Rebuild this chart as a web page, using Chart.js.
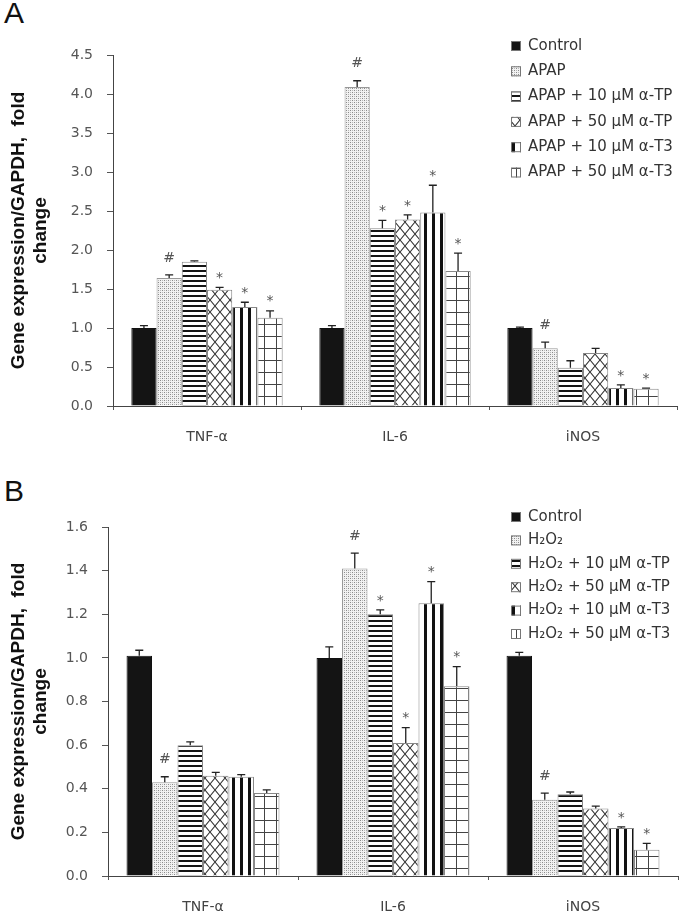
<!DOCTYPE html>
<html>
<head>
<meta charset="utf-8">
<script src="https://cdn.jsdelivr.net/npm/chart.js@4.4.1/dist/chart.umd.min.js"></script>
<style>
  body { margin: 0; background: #fff; }
  #page { position: relative; width: 683px; height: 915px; overflow: hidden; }
  .panel { position: absolute; left: 0; }
  .letter { position: absolute; left: 4px; font-family: "Liberation Sans", Arial, sans-serif; font-size: 30px; line-height: 1; color: #111; }
</style>
</head>
<body>
<div id="page">
  <div class="letter" style="top:-2px">A</div>
  <div class="letter" style="top:476px">B</div>
  <canvas id="chartA" class="panel" style="top:0" width="683" height="460"></canvas>
  <canvas id="chartB" class="panel" style="top:460px" width="683" height="455"></canvas>
</div>
<script>
// data
const genes = ['TNF-α', 'IL-6', 'iNOS'];

const seriesA = ['Control', 'APAP', 'APAP + 10 μM α-TP', 'APAP + 50 μM α-TP', 'APAP + 10 μM α-T3', 'APAP + 50 μM α-T3'];
const meansA = [
  [1.00, 1.00, 1.00],
  [1.64, 4.09, 0.74],
  [1.85, 2.28, 0.49],
  [1.49, 2.39, 0.68],
  [1.27, 2.48, 0.23],
  [1.13, 1.73, 0.22]
];
const semsA = [
  [0.03, 0.03, 0.01],
  [0.04, 0.08, 0.08],
  [0.01, 0.10, 0.09],
  [0.03, 0.06, 0.06],
  [0.06, 0.35, 0.04],
  [0.09, 0.23, 0.01]
];
const marksA = [
  ['', '', ''],
  ['#', '#', '#'],
  ['', '*', ''],
  ['*', '*', ''],
  ['*', '*', '*'],
  ['*', '*', '*']
];
const ticksA = { max: 4.5, step: 0.5 };

const seriesB = ['Control', 'H₂O₂', 'H₂O₂ + 10 μM α-TP', 'H₂O₂ + 50 μM α-TP', 'H₂O₂ + 10 μM α-T3', 'H₂O₂ + 50 μM α-T3'];
const meansB = [
  [1.01, 1.00, 1.01],
  [0.43, 1.41, 0.35],
  [0.60, 1.20, 0.375],
  [0.46, 0.61, 0.31],
  [0.455, 1.25, 0.22],
  [0.38, 0.87, 0.12]
];
const semsB = [
  [0.025, 0.05, 0.015],
  [0.025, 0.07, 0.03],
  [0.015, 0.02, 0.01],
  [0.015, 0.07, 0.01],
  [0.01, 0.10, 0.005],
  [0.015, 0.09, 0.03]
];
const marksB = [
  ['', '', ''],
  ['#', '#', '#'],
  ['', '*', ''],
  ['', '*', ''],
  ['', '*', '*'],
  ['', '*', '*']
];
const ticksB = { max: 1.6, step: 0.2 };

const yTitle = ['Gene expression/GAPDH,  fold', 'change'];

Chart.defaults.font.family = '"DejaVu Sans", Verdana, sans-serif';
Chart.defaults.font.size = 14;

function makePattern(kind) {
  const c = document.createElement('canvas');
  const g = c.getContext('2d');
  if (kind === 'dots') {
    c.width = 4; c.height = 4;
    g.fillStyle = '#f2f2f2'; g.fillRect(0, 0, 4, 4);
    g.fillStyle = '#8a8a8a'; g.fillRect(0, 0, 1, 1); g.fillRect(2, 2, 1, 1);
    g.fillStyle = '#b8b8b8'; g.fillRect(2, 0, 1, 1); g.fillRect(0, 2, 1, 1);
  } else if (kind === 'hlines') {
    c.width = 4; c.height = 5;
    g.fillStyle = '#fff'; g.fillRect(0, 0, 4, 5);
    g.fillStyle = '#151515'; g.fillRect(0, 0, 4, 2);
  } else if (kind === 'cross') {
    c.width = 10; c.height = 12;
    g.fillStyle = '#fff'; g.fillRect(0, 0, 10, 12);
    g.strokeStyle = '#333'; g.lineWidth = 1.1;
    g.beginPath();
    g.moveTo(0, 0); g.lineTo(10, 12);
    g.moveTo(10, 0); g.lineTo(0, 12);
    g.stroke();
  } else if (kind === 'vlines') {
    c.width = 8; c.height = 4;
    g.fillStyle = '#fff'; g.fillRect(0, 0, 8, 4);
    g.fillStyle = '#111'; g.fillRect(0, 0, 3, 4);
  } else if (kind === 'grid') {
    c.width = 12; c.height = 12;
    g.fillStyle = '#fff'; g.fillRect(0, 0, 12, 12);
    g.strokeStyle = '#444'; g.lineWidth = 1;
    g.beginPath();
    g.moveTo(0.5, 0); g.lineTo(0.5, 12);
    g.moveTo(0, 0.5); g.lineTo(12, 0.5);
    g.stroke();
  }
  return g.createPattern(c, 'repeat');
}

const fills = ['#141414', makePattern('dots'), makePattern('hlines'), makePattern('cross'), makePattern('vlines'), makePattern('grid')];
const edges = ['#111', '#999', '#888', '#888', '#888', '#888'];

const errorBars = {
  id: 'errorBars',
  afterDatasetsDraw(chart) {
    const ctx = chart.ctx;
    const y = chart.scales.y;
    chart.data.datasets.forEach((ds, i) => {
      chart.getDatasetMeta(i).data.forEach((bar, j) => {
        const base = y.getPixelForValue(ds.data[j]);
        const top = y.getPixelForValue(ds.data[j] + ds.sem[j]);
        ctx.save();
        ctx.strokeStyle = '#222';
        ctx.lineWidth = 1.3;
        ctx.beginPath();
        ctx.moveTo(bar.x, base); ctx.lineTo(bar.x, top);
        ctx.moveTo(bar.x - 4, top); ctx.lineTo(bar.x + 4, top);
        ctx.stroke();
        const m = ds.marks[j];
        if (m) {
          ctx.fillStyle = '#555';
          ctx.font = '14px "DejaVu Sans"';
          ctx.textAlign = 'center';
          ctx.textBaseline = 'middle';
          ctx.fillText(m, bar.x, top - (m === '#' ? 17 : 9));
        }
        ctx.restore();
      });
    });
  }
};

const swatchLegend = {
  id: 'swatchLegend',
  afterDraw(chart, args, opts) {
    const ctx = chart.ctx;
    chart.data.datasets.forEach((ds, i) => {
      const cy = opts.y + i * opts.gap;
      ctx.save();
      ctx.fillStyle = ds.backgroundColor;
      ctx.fillRect(opts.x, cy - 5, 10, 10);
      ctx.strokeStyle = '#777';
      ctx.lineWidth = 1;
      ctx.strokeRect(opts.x + 0.5, cy - 4.5, 9, 9);
      ctx.fillStyle = '#333';
      ctx.font = '15px "DejaVu Sans"';
      ctx.textAlign = 'left';
      ctx.textBaseline = 'middle';
      ctx.fillText(ds.label, opts.x + 17, cy);
      ctx.restore();
    });
  }
};

function drawPanel(id, series, means, sems, marks, ticks, box) {
  const datasets = series.map((name, i) => ({
    label: name,
    data: means[i],
    sem: sems[i],
    marks: marks[i],
    backgroundColor: fills[i],
    borderColor: edges[i],
    borderWidth: 1,
    borderSkipped: 'start',
    categoryPercentage: 0.805,
    barPercentage: 1.0
  }));
  return new Chart(document.getElementById(id), {
    type: 'bar',
    data: { labels: genes, datasets: datasets },
    plugins: [errorBars, swatchLegend],
    options: {
      responsive: false,
      animation: false,
      layout: { padding: { top: box.top, right: box.right, left: 0, bottom: 0 } },
      plugins: {
        legend: { display: false },
        tooltip: { enabled: false },
        swatchLegend: box.legend
      },
      scales: {
        x: {
          afterFit: (s) => { s.height = box.xHeight; },
          grid: { offset: true, drawOnChartArea: false, tickLength: 4, color: '#555' },
          border: { color: '#444', width: 1 },
          ticks: { color: '#444', padding: 19, font: { size: 14 } }
        },
        y: {
          min: 0,
          max: ticks.max,
          afterFit: (s) => { s.width = box.yWidth; },
          grid: { drawOnChartArea: false, tickLength: 6, color: '#555' },
          border: { color: '#444', width: 1 },
          ticks: {
            stepSize: ticks.step,
            color: '#555',
            padding: 14,
            font: { size: 14 },
            callback: (v) => v.toFixed(1)
          },
          title: {
            display: true,
            text: yTitle,
            color: '#111',
            padding: { top: 7, bottom: 0 },
            font: { family: '"Liberation Sans", Arial, sans-serif', size: 19, weight: 'bold' }
          }
        }
      }
    }
  });
}

drawPanel('chartA', seriesA, meansA, semsA, marksA, ticksA,
  { top: 55, right: 6, xHeight: 54, yWidth: 113, legend: { x: 511, y: 46, gap: 25.3 } });
drawPanel('chartB', seriesB, meansB, semsB, marksB, ticksB,
  { top: 67, right: 5, xHeight: 39, yWidth: 108, legend: { x: 511, y: 57, gap: 23.4 } });
</script>
</body>
</html>
